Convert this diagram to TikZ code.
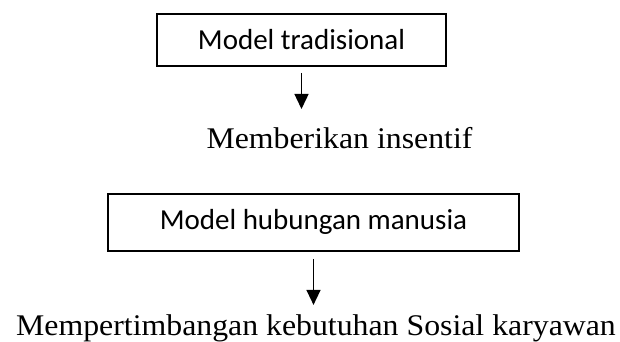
\documentclass[tikz,border=0pt]{standalone}
\usepackage{fontspec}
\setmainfont{Liberation Serif}[FakeStretch=1.06]
\newfontfamily\boxfont{Carlito}
\usetikzlibrary{positioning,arrows.meta}

\begin{document}
\begin{tikzpicture}[node distance=1.2cm, auto,
  block/.style={rectangle, draw, line width=1.4pt, inner sep=0pt, outer sep=0pt,
    minimum height=52pt, align=center, font=\boxfont\fontsize{29}{34}\selectfont},
  result/.style={inner sep=0pt, outer sep=0pt, font=\fontsize{30}{36}\selectfont},
  arr/.style={-{Triangle[width=14pt,length=15pt]}, line width=1.4pt}]

  \useasboundingbox (0,0) rectangle (620pt,-342pt);

  \node[block, minimum width=289pt] (trad) at (301.5pt,-40pt) {Model tradisional};
  \node[result, below=61pt of trad, xshift=38pt] (insentif) {Memberikan insentif};

  \node[block, below=45.5pt of insentif, xshift=-26pt, minimum width=411pt, minimum height=57pt] (hub) {Model hubungan manusia};
  \node[result, below=64pt of hub, xshift=2.5pt] (sosial) {Mempertimbangan kebutuhan Sosial karyawan};

  % arrows down
  \draw[arr, shorten <=7pt, shorten >=18pt] (trad.south) -- (trad.south |- insentif.north);
  \draw[arr, shorten <=8pt, shorten >=10pt] (hub.south) -- (hub.south |- sosial.north);
\end{tikzpicture}
\end{document}
